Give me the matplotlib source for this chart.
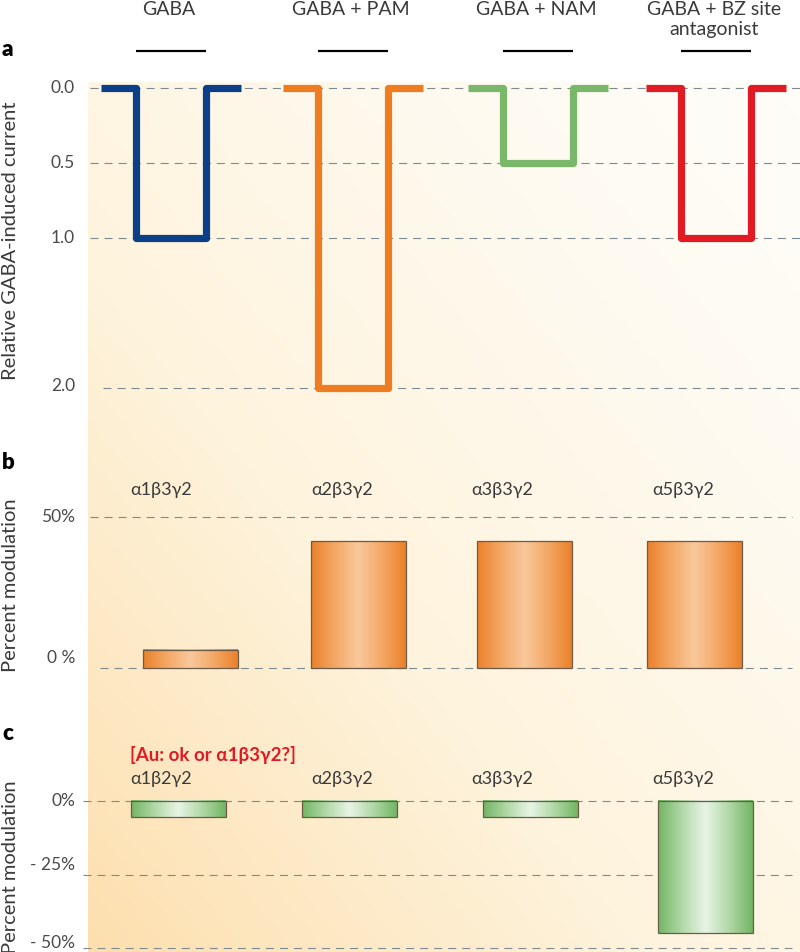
import numpy as np
import matplotlib
matplotlib.use("Agg")
import matplotlib.pyplot as plt
import matplotlib.transforms as mtransforms
from matplotlib.colors import LinearSegmentedColormap

plt.rcParams['font.family'] = ['Lato', 'Noto Sans', 'DejaVu Sans']
plt.rcParams['lines.scale_dashes'] = False

# ---- data ----
# panel a: relative GABA-induced current for each condition
conditions = ["GABA", "GABA + PAM", "GABA + NAM", "GABA + BZ site\nantagonist"]
rel_current = [1.0, 2.0, 0.5, 1.0]
trace_colors = ["#0b3f87", "#ee7d22", "#79b86b", "#e01b24"]
a_ticks = [0.0, 0.5, 1.0, 2.0]
a_ticklabels = ["0.0", "0.5", "1.0", "2.0"]

# panel b: PAM, percent modulation per receptor subtype
subtypes_b = ["α1β3γ2", "α2β3γ2", "α3β3γ2", "α5β3γ2"]
mod_b = [6, 42, 42, 42]
b_ticks = [50, 0]
b_ticklabels = ["50%", "0 %"]

# panel c: NAM, percent modulation per receptor subtype
subtypes_c = ["α1β2γ2", "α2β3γ2", "α3β3γ2", "α5β3γ2"]
mod_c = [-5.5, -5.5, -5.5, -45]
c_ticks = [0, -25, -50]
c_ticklabels = ["0%", "- 25%", "- 50%"]
query_note = "[Au: ok or α1β3γ2?]"

# ---- layout (horizontal positions are in figure pixels) ----
W, H = 800, 952
trace_x = [171, 353, 538, 716]
pulse_half, trace_half = 35, 70
b_bar_x = [190, 358, 524, 694]
c_bar_x = [178, 349, 530, 705]
bar_w = 95
sub_label_x = [161, 342, 502, 683]
grid_col = "#7d8a90"
dash = (0, (5.8, 4.3))
text_col = "#3a3a3a"

fig = plt.figure(figsize=(W / 100, H / 100), dpi=100)
fig.patch.set_facecolor("white")


def px_axes(top, bottom, left=88, right=800):
    ax = fig.add_axes([left / W, 1 - bottom / H, (right - left) / W, (bottom - top) / H])
    ax.set_facecolor("none")
    ax.set_xlim(left, right)
    for s in ax.spines.values():
        s.set_visible(False)
    ax.set_xticks([])
    ax.set_yticks([])
    return ax


# background wash, peach at lower left fading to cream at top right
bg = px_axes(82, 952)
gx, gy = np.meshgrid(np.linspace(0, 1, 200), np.linspace(0, 1, 200))
t = (0.5 * (1 - gx) + 0.5 * gy) ** 1.4
bg_cmap = LinearSegmentedColormap.from_list("bg", ["#fffdf8", "#fef3dc", "#fddfae"])
bg.imshow(t, cmap=bg_cmap, extent=[88, 800, 0, 1], aspect="auto", origin="upper", vmin=0, vmax=1)
bg.set_ylim(0, 1)

orange_cmap = LinearSegmentedColormap.from_list("o", ["#ea812a", "#f3a865", "#f9c89b"])
green_cmap = LinearSegmentedColormap.from_list("g", ["#72b564", "#b1d8a7", "#e8f4e5"])
profile = 1 - np.abs(np.linspace(-1, 1, 200))[None, :]


def tick_texts(ax, ticks, labels, dys):
    for v, s, dy in zip(ticks, labels, dys):
        tr = mtransforms.offset_copy(ax.transData, fig=fig, y=dy, units="dots")
        ax.text(75, v, s, transform=tr, ha="right", va="center", fontsize=12.5,
                color="#4a4a4a", clip_on=False)


def gradient_bars(ax, xs, vals, cmap):
    rects = ax.bar(xs, vals, width=bar_w, facecolor="none", edgecolor="#6e5a48",
                   linewidth=0.9, zorder=4)
    for r in rects:
        y0, y1 = sorted([r.get_y(), r.get_y() + r.get_height()])
        ax.imshow(profile, cmap=cmap, extent=[r.get_x(), r.get_x() + r.get_width(), y0, y1],
                  aspect="auto", zorder=3, vmin=0, vmax=1)


# ---- panel a ----
ax_a = px_axes(40, 420)
ax_a.set_ylim((420 - 88) / 150, (40 - 88) / 150)
ax_a.hlines(a_ticks, [90, 90, 90, 103], 800, colors=grid_col, linestyles=dash, lw=0.8, zorder=1)
for c, v, col in zip(trace_x, rel_current, trace_colors):
    xs = [c - trace_half, c - pulse_half, c - pulse_half, c + pulse_half, c + pulse_half, c + trace_half]
    ys = [0, 0, v, v, 0, 0]
    ax_a.plot(xs, ys, color=col, lw=5.2, solid_joinstyle="round", solid_capstyle="butt", zorder=3)
# drug application bars
app_level = -0.247
ax_a.hlines([app_level] * len(trace_x), [c - pulse_half for c in trace_x],
            [c + pulse_half for c in trace_x], colors="black", lw=1.6, clip_on=False)
top_tr = mtransforms.blended_transform_factory(ax_a.transData, fig.transFigure)
for c, lab in zip(trace_x, conditions):
    ax_a.text(c - 2, 1 - 1 / H, lab, transform=top_tr, ha="center", va="top", fontsize=14,
              color=text_col, linespacing=1.2, clip_on=False)
tick_texts(ax_a, a_ticks, a_ticklabels, [0, 0, 0, 2])

# ---- panel b ----
ax_b = px_axes(440, 700)
ax_b.hlines(b_ticks, [90, 100], 792, colors=grid_col, linestyles=dash, lw=0.8, zorder=1)
gradient_bars(ax_b, b_bar_x, mod_b, orange_cmap)
ax_b.set_xlim(88, 800)
ax_b.set_ylim((668 - 700) / 3.02, (668 - 440) / 3.02)
for x, lab in zip(sub_label_x, subtypes_b):
    ax_b.text(x, 59, lab, ha="center", va="center", fontsize=13, color=text_col)
tick_texts(ax_b, b_ticks, b_ticklabels, [0, 10])

# ---- panel c ----
ax_c = px_axes(700, 952)
ax_c.hlines(c_ticks, 83, 792, colors=grid_col, linestyles=dash, lw=0.8, zorder=1, clip_on=False)
gradient_bars(ax_c, c_bar_x, mod_c, green_cmap)
ax_c.set_xlim(88, 800)
ax_c.set_ylim((801 - 952) / 2.94, (801 - 700) / 2.94)
for x, lab in zip(sub_label_x, subtypes_c):
    ax_c.text(x, 7.5, lab, ha="center", va="center", fontsize=13, color=text_col)
ax_c.text(130, 15.6, query_note, ha="left", va="center", fontsize=13.5,
          color="#e01b24", fontweight="bold")
tick_texts(ax_c, c_ticks, c_ticklabels, [0, 9, 5])

# ---- panel letters and axis titles ----
for lab, y in zip(["a", "b", "c"], [50, 462, 733]):
    fig.text(2 / W, 1 - y / H, lab, ha="left", va="center", fontsize=16, fontweight="heavy")
for lab, y in zip(["Relative GABA-induced current", "Percent modulation", "Percent modulation"],
                  [241, 585, 867]):
    fig.text(11 / W, 1 - y / H, lab, rotation=90, ha="center", va="center", fontsize=14.5,
             color=text_col)

fig.savefig("out.png", dpi=100)
